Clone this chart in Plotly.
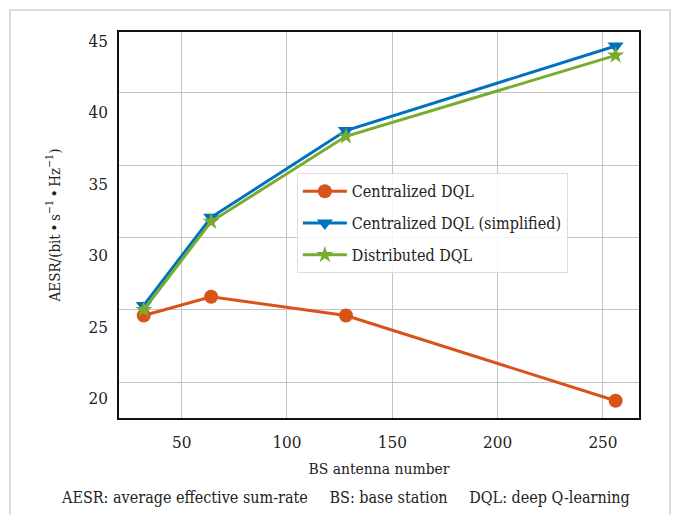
import plotly.graph_objects as go

# ---- data ----
antennas = [32, 64, 128, 256]
central_dql = [24.6, 25.9, 24.6, 18.7]
central_dql_simpl = [25.3, 31.4, 37.4, 43.25]
distributed_dql = [25.0, 31.1, 37.0, 42.6]
series_names = ["Centralized DQL", "Centralized DQL (simplified)", "Distributed DQL"]
x_ticks = [50, 100, 150, 200, 250]
y_ticks = [20, 25, 30, 35, 40, 45]

# ---- style ----
FONT = "'DejaVu Serif Condensed', 'DejaVu Serif', serif"
C_ORANGE = "#D95319"
C_BLUE = "#0072BD"
C_GREEN = "#77AC30"
W, H = 682, 515
ML, MR, MT, MB = 119, 43, 32, 97
PW, PH = W - ML - MR, H - MT - MB

fig = go.Figure()
fig.add_trace(go.Scatter(
    x=antennas, y=central_dql, name=series_names[0], mode="lines+markers",
    line=dict(color=C_ORANGE, width=3), marker=dict(symbol="circle", size=14, color=C_ORANGE),
    legendgroup="a"))
fig.add_trace(go.Scatter(
    x=antennas, y=central_dql_simpl, name=series_names[1], mode="lines+markers",
    line=dict(color=C_BLUE, width=3), marker=dict(symbol="triangle-down", size=14, color=C_BLUE),
    legendgroup="b"))
fig.add_trace(go.Scatter(
    x=antennas, y=distributed_dql, name=series_names[2], mode="lines+markers",
    line=dict(color=C_GREEN, width=3), marker=dict(symbol="star", size=13, color=C_GREEN),
    legendgroup="c"))
# empty trace so the label axis is drawn
fig.add_trace(go.Scatter(x=[], y=[], yaxis="y2", showlegend=False, hoverinfo="skip"))

fig.update_layout(
    width=W, height=H,
    margin=dict(l=ML, r=MR, t=MT, b=MB),
    paper_bgcolor="white", plot_bgcolor="white",
    font=dict(family=FONT, size=16, color="#222"),
    showlegend=True,
    legend=dict(
        x=0.342, y=0.634, xanchor="left", yanchor="top",
        bgcolor="rgba(255,255,255,0.85)", bordercolor="#dddddd", borderwidth=1,
        font=dict(family=FONT, size=16, color="#222"),
        tracegroupgap=8, traceorder="grouped", itemwidth=44,
    ),
    xaxis=dict(
        range=[20.26, 267.1], tickvals=x_ticks, showgrid=True, gridcolor="#c4c4c4", gridwidth=1,
        zeroline=False, showline=True, linecolor="#111", linewidth=1.5, mirror=True,
        ticks="", ticklabelstandoff=8,
        tickfont=dict(family=FONT, size=17),
        title=dict(text="BS antenna number", standoff=12, font=dict(family=FONT, size=15.5)),
        automargin=False,
    ),
    yaxis=dict(
        range=[17.51, 44.22], tickvals=y_ticks, showgrid=True, gridcolor="#c4c4c4", gridwidth=1,
        zeroline=False, showline=True, linecolor="#111", linewidth=1.5, mirror=True,
        ticks="", showticklabels=False, automargin=False,
    ),
    yaxis2=dict(
        overlaying="y", side="left", anchor="x", range=[18.60, 45.63], tickvals=y_ticks,
        showgrid=False, zeroline=False, showline=False, ticks="", ticklabelstandoff=10,
        automargin=False,
        tickfont=dict(family=FONT, size=17),
        title=dict(text="AESR/(bit\u2009•\u2009s<sup>−1</sup>\u2009•\u2009Hz<sup>−1</sup>)", standoff=24,
                   font=dict(family=FONT, size=15)),
    ),
    shapes=[dict(
        type="rect", xref="paper", yref="paper", layer="below",
        x0=(10 - ML) / PW, x1=(670 - ML) / PW,
        y0=(H - MB - 530) / PH, y1=(H - MB - 10) / PH,
        line=dict(color="#d0d0d0", width=1.5), fillcolor="rgba(0,0,0,0)",
    )],
    annotations=[dict(
        text="AESR: average effective sum-rate\u2003\u2002BS: base station\u2003\u2002DQL: deep Q-learning",
        xref="paper", yref="paper", x=(345 - ML) / PW, y=(H - MB - 497) / PH,
        xanchor="center", yanchor="middle", showarrow=False,
        font=dict(family=FONT, size=16, color="#222"),
    )],
)

fig.write_html("out.html")
